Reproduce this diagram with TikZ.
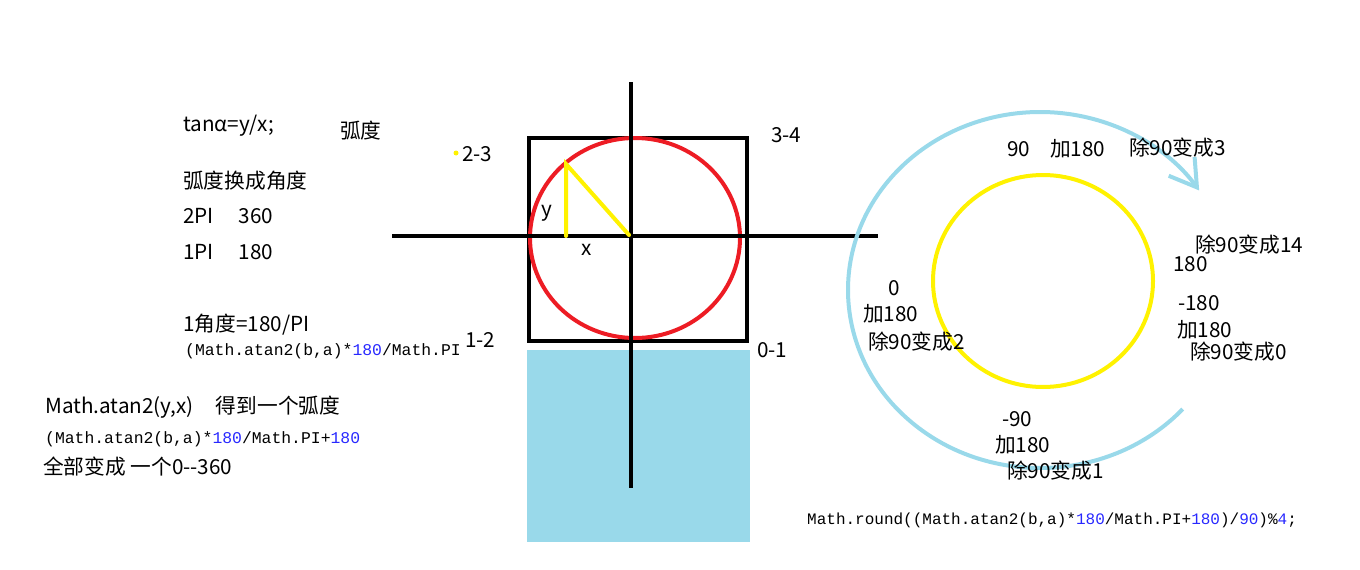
\documentclass[tikz,border=0pt]{standalone}
\usepackage{fontspec}
\setmainfont{Noto Sans CJK SC}
\setmonofont{Liberation Mono}
\usepackage{tikz}
\usetikzlibrary{arrows.meta}
\definecolor{ink}{RGB}{0,0,0}
\definecolor{paintred}{RGB}{237,28,36}
\definecolor{paintyel}{RGB}{255,242,0}
\definecolor{sky}{RGB}{153,217,234}
\definecolor{codeblue}{RGB}{40,40,255}
\newcommand{\cnum}[1]{\textcolor{codeblue}{#1}}
\tikzset{
  txt/.style={anchor=west,inner sep=0pt,text=ink,font=\fontsize{20.7}{24}\selectfont},
  code/.style={anchor=west,inner sep=0pt,text=ink,font=\ttfamily\fontsize{16.4}{18}\selectfont},
  axis/.style={draw=ink,line width=4pt},
  ring/.style={line width=4pt},
  leg/.style={paintyel,line width=4pt,line cap=round},
}

\begin{document}
\begin{tikzpicture}[x=1pt,y=-1pt]
  \useasboundingbox (0,0) rectangle (1360,570);
  % notes on the left
  \node[txt] (tan) at (183,126) {tanα=y/x;};
  \node[txt] (rad) at (340,131) {弧度};
  \node[txt] (conv) at (183,181) {弧度换成角度};
  \node[txt] (twopi) at (183,216) {2PI\hspace{25pt}360};
  \node[txt] (onepi) at (183,252) {1PI\hspace{25pt}180};
  \node[txt] (deg) at (183,325) {1角度=180/PI};
  \node[code] (c1) at (185,351) {(Math.atan2(b,a)*\cnum{180}/Math.PI};
  \node[txt] (atan) at (45,407) {Math.atan2(y,x)\hspace{22pt}得到一个弧度};
  \node[code] (c2) at (45,439) {(Math.atan2(b,a)*\cnum{180}/Math.PI+\cnum{180}};
  \node[txt] (all) at (43,467) {全部变成 一个0-\kern0pt-360};
  % unit circle
  \fill[sky] (527,350) rectangle (750,542);
  \draw[axis] (529,138) rectangle (747,341);
  \draw[paintred,ring] (635,238) ellipse [x radius=105,y radius=100];
  \coordinate (n) at (631,82);
  \coordinate (s) at (631,488);
  \coordinate (w) at (392,236);
  \coordinate (e) at (878,236);
  \draw[axis] (n) -- (s);
  \draw[axis] (w) -- (e);
  \coordinate (o) at (629,235);
  \coordinate (p) at (566,164);
  \coordinate (q) at (566,236);
  \draw[leg] (q) -- (p) -- (o);
  \node[txt] (ly) at (541,213) {y};
  \node[txt] (lx) at (581,250) {x};
  \node[circle,fill=paintyel,inner sep=0pt,minimum size=5pt] (dot) at (456,153) {};
  \node[txt] (q23) at (462,154) {2-3};
  \node[txt] (q34) at (771,135) {3-4};
  \node[txt] (q12) at (465,340) {1-2};
  \node[txt] (q01) at (757,350) {0-1};
  % quadrant ring
  \path (1040,290) ++(42:192 and 178) coordinate (turn0);
  \draw[sky,ring,-{Straight Barb[length=26pt,width=32pt]}]
    (turn0) arc[start angle=42,end angle=326,x radius=192,y radius=178];
  \draw[paintyel,ring] (1043,281) ellipse [x radius=110,y radius=106];
  \node[txt] (t90) at (1007,149) {90};
  \node[txt] (t90a) at (1050,149) {加180};
  \node[txt] (t90b) at (1129,148) {除90变成3};
  \node[txt] (t180b) at (1195,245) {除90变成14};
  \node[txt] (t180) at (1173,264) {180};
  \node[txt] (tm180) at (1178,303) {-180};
  \node[txt] (tm180a) at (1177,330) {加180};
  \node[txt] (tm180b) at (1190,352) {除90变成0};
  \node[txt] (t0) at (888,288) {0};
  \node[txt] (t0a) at (863,314) {加180};
  \node[txt] (t0b) at (868,342) {除90变成2};
  \node[txt] (tm90) at (1002,419) {-90};
  \node[txt] (tm90a) at (995,445) {加180};
  \node[txt] (tm90b) at (1007,471) {除90变成1};
  \node[code,font=\ttfamily\fontsize{16}{18}\selectfont] (c3) at (807,520)
    {Math.round((Math.atan2(b,a)*\cnum{180}/Math.PI+\cnum{180})/\cnum{90})\%\cnum{4};};
\end{tikzpicture}
\end{document}
